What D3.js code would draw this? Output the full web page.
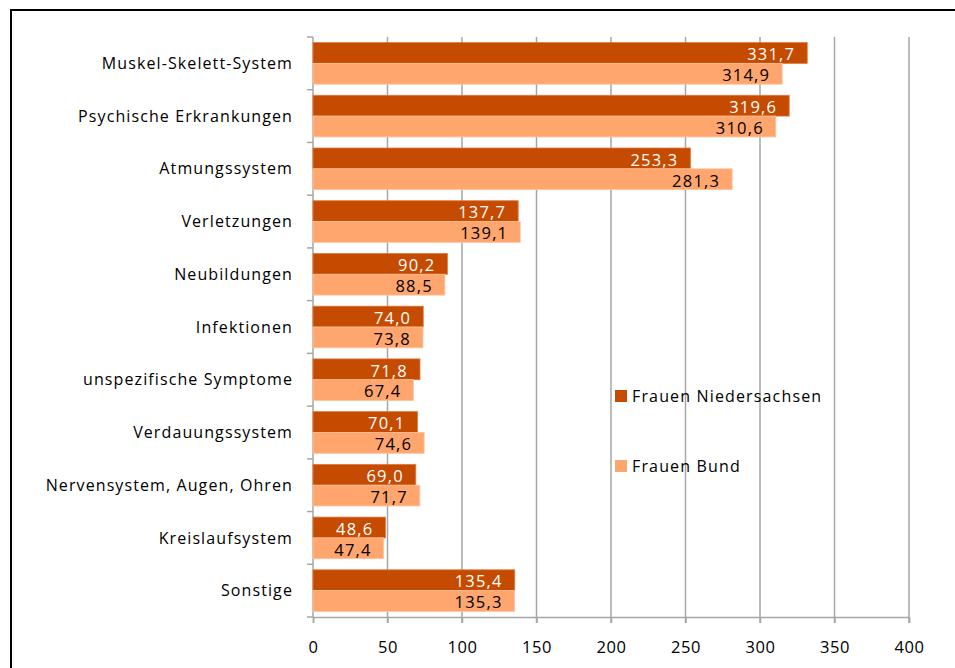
<!DOCTYPE html>
<html><head><meta charset="utf-8">
<script src="https://cdn.jsdelivr.net/npm/d3@7"></script>
<style>
body{margin:0;background:#fff;}
svg text{font-family:"Open Sans","Liberation Sans",sans-serif;}
</style></head>
<body>
<svg id="c" width="955" height="668"></svg>
<script>
const categories = ["Muskel-Skelett-System","Psychische Erkrankungen","Atmungssystem","Verletzungen","Neubildungen","Infektionen","unspezifische Symptome","Verdauungssystem","Nervensystem, Augen,  Ohren","Kreislaufsystem","Sonstige"];
const niedersachsen = [331.7,319.6,253.3,137.7,90.2,74.0,71.8,70.1,69.0,48.6,135.4];
const bund = [314.9,310.6,281.3,139.1,88.5,73.8,67.4,74.6,71.7,47.4,135.3];
const seriesNames = ["Frauen Niedersachsen","Frauen Bund"];
const xTicks = [0,50,100,150,200,250,300,350,400];

(function(){
const colors = ["#C54B00","#FFA56E"];
const svg = d3.select("#c");

// frame
svg.append("rect").attr("x",11).attr("y",10).attr("width",1000).attr("height",800)
  .attr("fill","none").attr("stroke","#000").attr("stroke-width",2);

const pL=313, pR=909, pT=37, pB=617;
const x = d3.scaleLinear().domain([0,400]).range([pL,pR]);
const y = d3.scaleBand().domain(categories).range([pT,pB]).paddingInner(0.21).paddingOuter(0.105);

// gridlines
svg.append("g").selectAll("line").data(xTicks.slice(1)).join("line")
  .attr("x1",d=>x(d)).attr("x2",d=>x(d)).attr("y1",pT).attr("y2",pB+6)
  .attr("stroke","#A6A6A6").attr("stroke-width",1.5);

// x axis
const xa = svg.append("g").attr("transform",`translate(0,${pB})`)
  .call(d3.axisBottom(x).tickValues(xTicks).tickSize(6).tickPadding(18).tickFormat(d3.format("d")));
xa.select(".domain").attr("stroke","#A6A6A6").attr("stroke-width",1.5);
xa.selectAll(".tick line").attr("stroke","#A6A6A6").attr("stroke-width",1.5);
xa.selectAll("text").attr("font-size",16.5).attr("fill","#000").attr("letter-spacing","0.5px");

// y axis line with ticks at band boundaries
const bandStep = (pB-pT)/categories.length;
svg.append("line").attr("x1",pL).attr("x2",pL).attr("y1",pT).attr("y2",pB)
  .attr("stroke","#A6A6A6").attr("stroke-width",1.5);
svg.append("g").selectAll("line").data(d3.range(categories.length+1)).join("line")
  .attr("x1",pL-6).attr("x2",pL).attr("y1",i=>pT+i*bandStep).attr("y2",i=>pT+i*bandStep)
  .attr("stroke","#A6A6A6").attr("stroke-width",1.5);

// category labels
svg.append("g").selectAll("text").data(categories).join("text")
  .attr("x",293).attr("y",d=>y(d)+y.bandwidth()/2).attr("dy","0.35em")
  .attr("text-anchor","end").attr("font-size",16).attr("letter-spacing","1.1px")
  .attr("fill","#000").text(d=>d);

const fmt = v => d3.format(".1f")(v).replace(".",",");
const sub = d3.scaleBand().domain([0,1]).range([0,y.bandwidth()]);
const series = [niedersachsen,bund];
series.forEach((vals,si)=>{
  const g = svg.append("g");
  g.selectAll("rect").data(vals).join("rect")
    .attr("x",x(0)).attr("y",(d,i)=>y(categories[i])+sub(si))
    .attr("width",d=>x(d)-x(0)).attr("height",sub.bandwidth())
    .attr("fill",colors[si]).attr("stroke",si===0?"#E07A40":"#FFC49E").attr("stroke-width",0.8);
  g.selectAll("text").data(vals).join("text")
    .attr("x",d=>x(d)-12).attr("y",(d,i)=>y(categories[i])+sub(si)+sub.bandwidth()/2+1.5).attr("dy","0.35em")
    .attr("text-anchor","end").attr("font-size",16.5).attr("letter-spacing","1.2px")
    .attr("fill",si===0?"#fff":"#000").text(fmt);
});

// legend
const lg = svg.append("g");
[0,1].forEach(i=>{
  const ly = [396,466][i];
  lg.append("rect").attr("x",615).attr("y",ly-6).attr("width",12).attr("height",12).attr("fill",colors[i]);
  lg.append("text").attr("x",632).attr("y",ly).attr("dy","0.35em").attr("font-size",16)
    .attr("letter-spacing","1.15px").attr("fill","#000").text(seriesNames[i]);
});
})();
</script>
</body></html>
